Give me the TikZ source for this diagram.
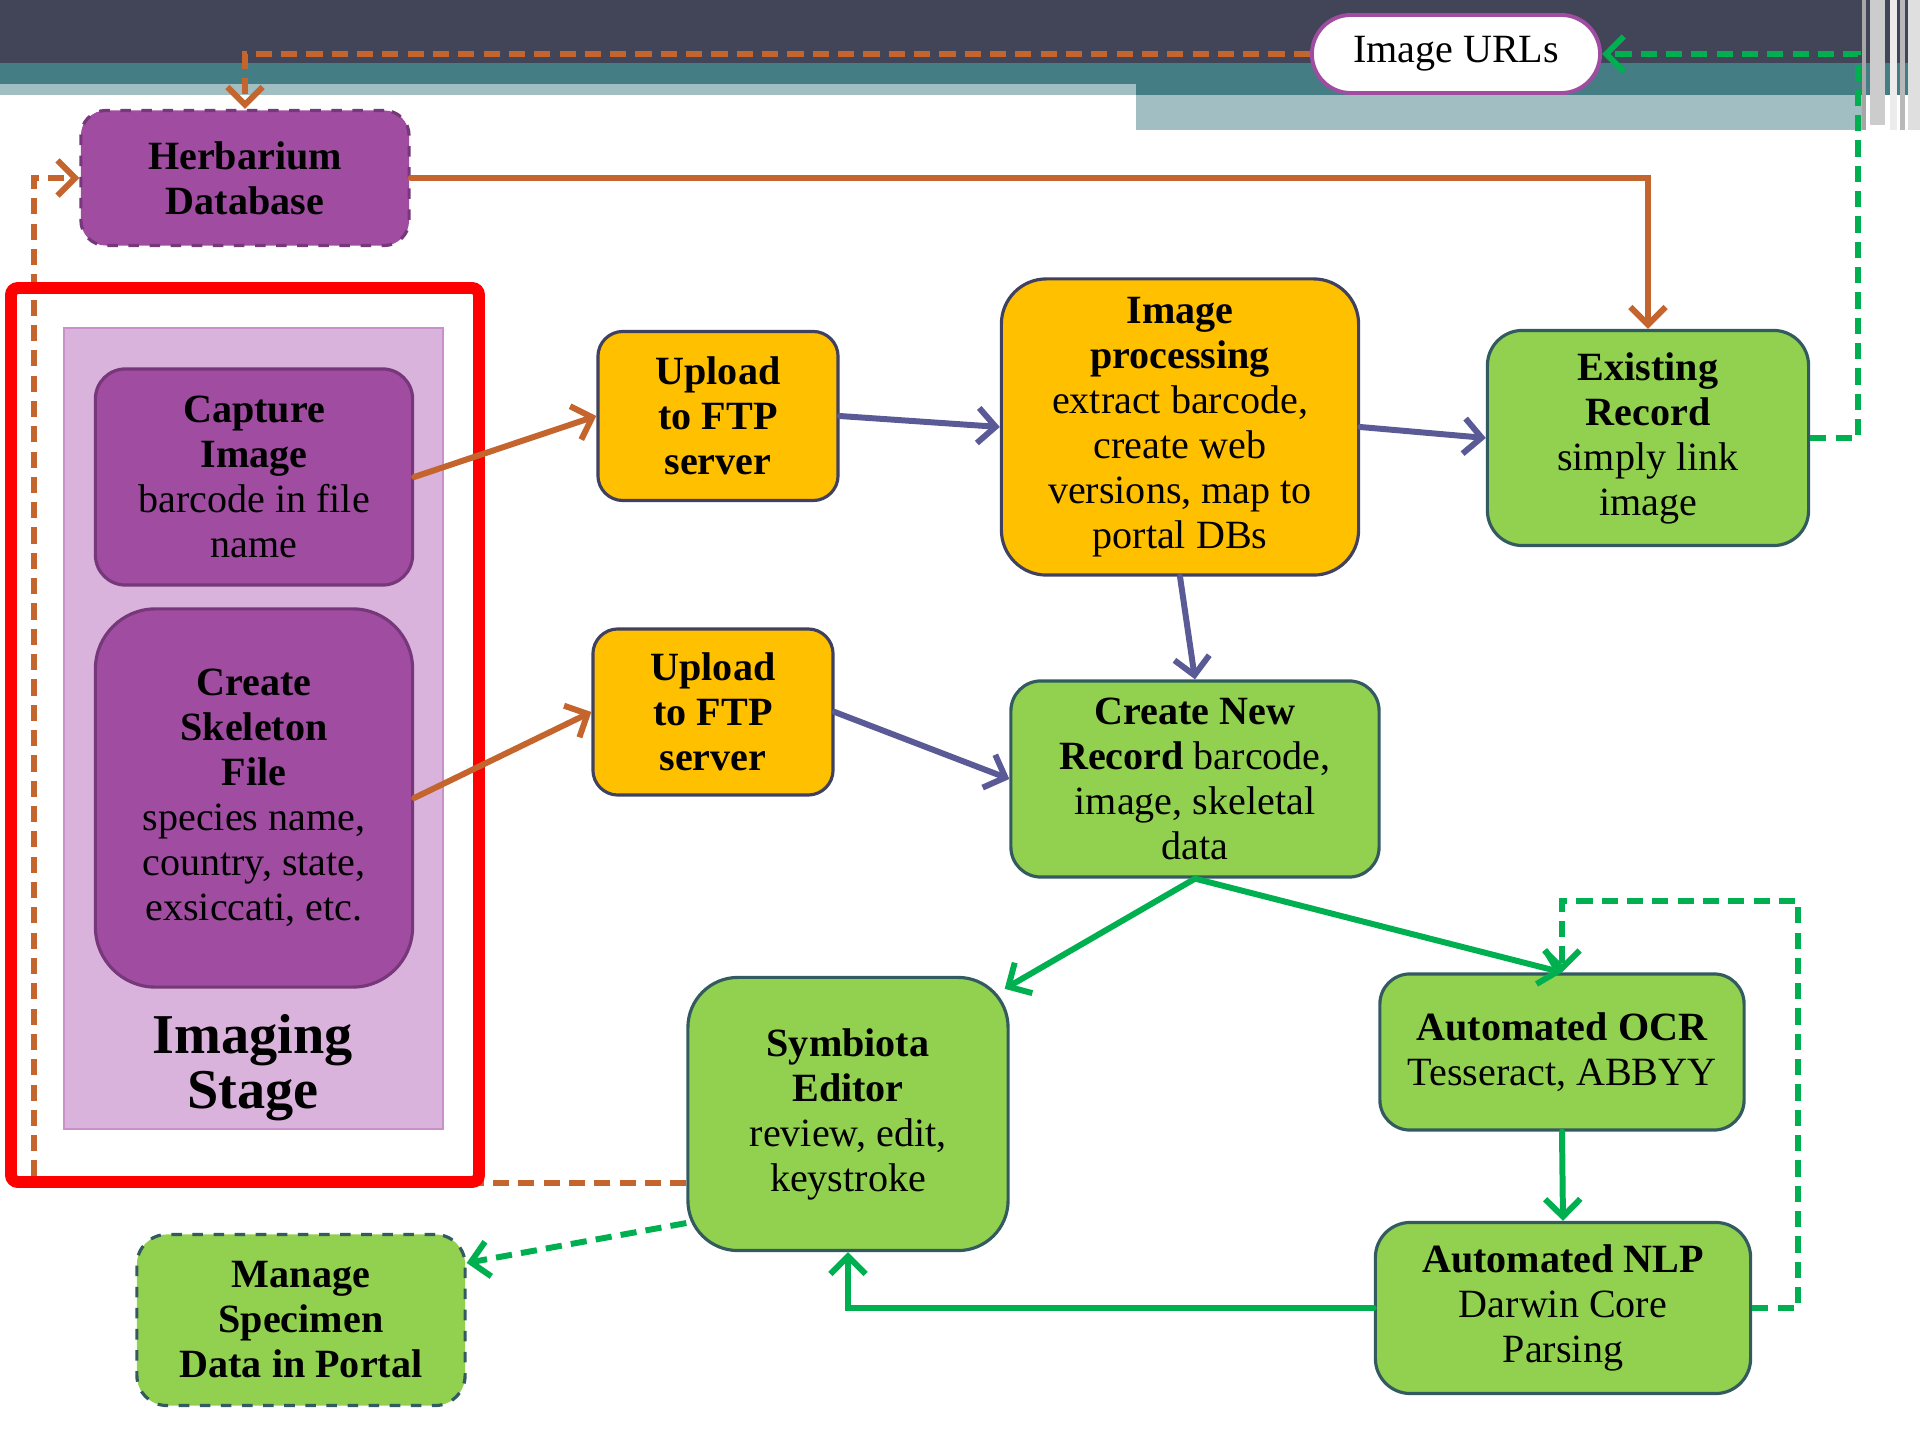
\documentclass[tikz,border=0pt]{standalone}
\usepackage{fontspec}
\setmainfont{Liberation Serif}
\usetikzlibrary{arrows.meta,backgrounds}

\definecolor{bannerdark}{RGB}{66,68,87}
\definecolor{bannerteal}{RGB}{68,125,132}
\definecolor{bannerlight}{RGB}{161,190,194}
\definecolor{boxpurple}{RGB}{160,76,160}
\definecolor{purpleedge}{RGB}{118,56,122}
\definecolor{stagepink}{RGB}{217,179,219}
\definecolor{stageedge}{RGB}{200,145,202}
\definecolor{boxorange}{RGB}{255,192,0}
\definecolor{slateedge}{RGB}{64,64,96}
\definecolor{boxgreen}{RGB}{146,208,80}
\definecolor{tealedge}{RGB}{50,90,95}
\definecolor{linkorange}{RGB}{197,101,46}
\definecolor{linkslate}{RGB}{90,90,150}
\definecolor{linkgreen}{RGB}{0,176,80}

\tikzset{
  stepbox/.style={draw, line width=0.9pt, rounded corners=0.3cm, align=center,
    inner sep=0pt, font=\fontsize{11.4}{12.8}\selectfont},
  purplebox/.style={stepbox, fill=boxpurple, draw=purpleedge},
  orangebox/.style={stepbox, fill=boxorange, draw=slateedge},
  greenbox/.style={stepbox, fill=boxgreen, draw=tealedge},
  link/.style={line width=1.7pt, line cap=round,
    -{Straight Barb[length=5pt,width=10pt,line width=1.7pt]}},
  dashlink/.style={link, line cap=butt, dash pattern=on 4.6pt off 2.6pt},
}

\begin{document}
\begin{tikzpicture}[x=0.01cm,y=-0.01cm]
    \useasboundingbox (0,0) rectangle (1920,1440);

    %% Boxes
    \node[purplebox, dashed, rounded corners=0.25cm, minimum width=3.28cm, minimum height=1.35cm]
        (herb) at (245,178) {\textbf{Herbarium}\\\textbf{Database}};
    \node[purplebox, minimum width=3.17cm, minimum height=2.16cm]
        (capture) at (254,477) {\textbf{Capture}\\\textbf{Image}\\barcode in file\\name};
    \node[purplebox, rounded corners=0.6cm, minimum width=3.17cm, minimum height=3.78cm]
        (skel) at (254,798) {\textbf{Create}\\\textbf{Skeleton}\\\textbf{File}\\species name,\\country, state,\\exsiccati, etc.};
    \node[orangebox, rounded corners=0.25cm, minimum width=2.4cm, minimum height=1.69cm]
        (up1) at (718,416) {\textbf{Upload}\\\textbf{to FTP}\\\textbf{server}};
    \node[orangebox, rounded corners=0.25cm, minimum width=2.4cm, minimum height=1.66cm]
        (up2) at (713,712) {\textbf{Upload}\\\textbf{to FTP}\\\textbf{server}};
    \node[orangebox, rounded corners=0.45cm, minimum width=3.57cm, minimum height=2.96cm]
        (proc) at (1180,427) {\textbf{Image}\\\textbf{processing}\\extract barcode,\\create web\\versions, map to\\portal DBs};
    \node[greenbox, rounded corners=0.35cm, minimum width=3.21cm, minimum height=2.15cm]
        (exist) at (1648,438) {\textbf{Existing}\\\textbf{Record}\\simply link\\image};
    \node[greenbox, minimum width=3.68cm, minimum height=1.96cm]
        (newrec) at (1195,779) {\textbf{Create New}\\\textbf{Record} barcode,\\image, skeletal\\data};
    \node[greenbox, rounded corners=0.5cm, minimum width=3.2cm, minimum height=2.73cm]
        (symb) at (848,1114) {\textbf{Symbiota}\\\textbf{Editor}\\review, edit,\\keystroke};
    \node[greenbox, minimum width=3.64cm, minimum height=1.56cm]
        (ocr) at (1562,1052) {\textbf{Automated OCR}\\Tesseract, ABBYY};
    \node[greenbox, rounded corners=0.35cm, minimum width=3.75cm, minimum height=1.71cm]
        (nlp) at (1563,1308) {\textbf{Automated NLP}\\Darwin Core\\Parsing};
    \node[greenbox, dashed, minimum width=3.28cm, minimum height=1.71cm]
        (manage) at (301,1320) {\textbf{Manage}\\\textbf{Specimen}\\\textbf{Data in Portal}};
    \node[stepbox, fill=white, draw=boxpurple, line width=1.1pt, rounded corners=0.39cm,
        minimum width=2.88cm, minimum height=0.78cm]
        (urls) at (1456,54) {Image URLs};
    \node[align=center, font=\bfseries\fontsize{16}{15.7}\selectfont]
        (stage) at (253,1068) {Imaging\\Stage};

    %% Banner, stage and feedback line behind the boxes
    \begin{scope}[on background layer]
        \fill[bannerdark] (0,0) rectangle (1920,63);
        \fill[bannerteal] (0,63) rectangle (1920,95);
        \fill[bannerlight] (0,84) rectangle (1136,95);
        \fill[bannerlight] (1136,95) rectangle (1862,130);
        \fill[gray!70] (1862,0) rectangle (1866,130);
        \fill[gray!40] (1870,0) rectangle (1885,125);
        \fill[white!85!gray] (1890,0) rectangle (1897,130);
        \fill[gray!55] (1900,0) rectangle (1905,130);
        \fill[white!75!gray] (1908,0) rectangle (1920,130);
        \coordinate (ocorner) at (34,178);
        \draw[dashlink, draw=linkorange] (symb.203) -| (ocorner) -- (herb.west);
        \draw[red, line width=3.4pt, rounded corners=2pt] (11,288) rectangle (479,1182);
        \draw[fill=stagepink, draw=stageedge, line width=0.8pt] (64,328) rectangle (443,1129);
    \end{scope}

    %% Orange links
    \draw[link, draw=linkorange] (herb.east) -| (exist.north);
    \draw[dashlink, draw=linkorange] (urls.west) -| (herb.north);
    \draw[link, draw=linkorange] (capture.east) -- (up1.west);
    \draw[link, draw=linkorange] (skel.east) -- (up2.west);

    %% Slate links
    \draw[link, draw=linkslate] (up1.east) -- (proc.west);
    \draw[link, draw=linkslate] (proc.east) -- (exist.west);
    \draw[link, draw=linkslate] (proc.south) -- (newrec.north);
    \draw[link, draw=linkslate] (up2.east) -- (newrec.west);

    %% Green links
    \coordinate (gcorner) at (1858,54);
    \coordinate (gloop) at (1798,901);
    \draw[dashlink, draw=linkgreen] (exist.east) -| (gcorner) -- (urls.east);
    \draw[link, draw=linkgreen] (newrec.south) -- ([shift={(-5,13)}]symb.north east);
    \draw[link, draw=linkgreen] (newrec.south) -- (ocr.north);
    \draw[link, draw=linkgreen] (ocr.south) -- (nlp.north);
    \draw[link, draw=linkgreen] (nlp.west) -| (symb.south);
    \draw[dashlink, draw=linkgreen] (nlp.east) -| (gloop) -| (ocr.north);
    \draw[dashlink, draw=linkgreen] (symb.214) -- (manage.19);
\end{tikzpicture}
\end{document}
